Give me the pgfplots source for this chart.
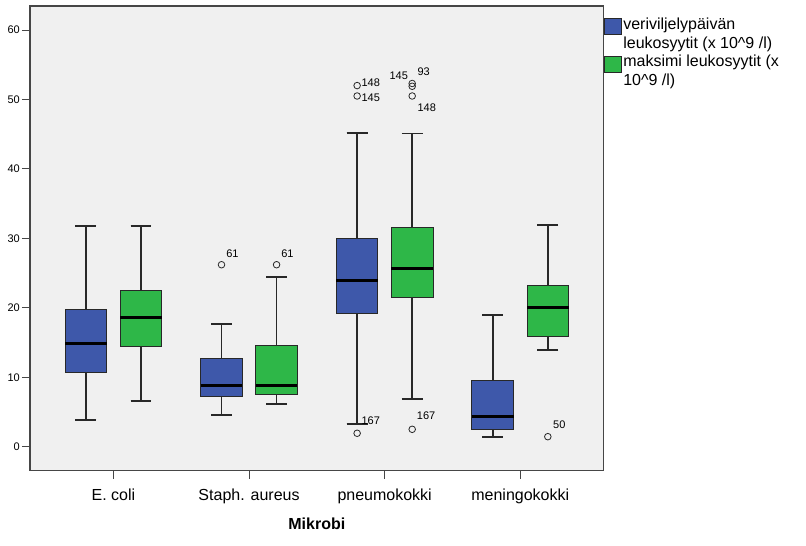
\documentclass[border=0pt]{standalone}
\usepackage{pgfplots}
\pgfplotsset{compat=1.18}
\usepgfplotslibrary{statistics}
\usepackage{pgfplotstable}
\usepackage{fontspec}
\setmainfont{Liberation Sans}
\definecolor{spssblue}{RGB}{62,88,170}
\definecolor{spssgreen}{RGB}{46,183,72}
\definecolor{bggray}{RGB}{240,240,240}
\definecolor{framegray}{RGB}{70,70,70}
\definecolor{boxedge}{RGB}{40,40,40}

\pgfplotstableread{
x y lab dx dy
0.797 26.2 61 4.4 11
1.203 26.2 61 4.4 11
1.797 52.0 148 4 3
1.797 50.5 145 4 -2
1.797 1.93 167 4 13
2.203 52.3 93 5 11.8
2.203 51.9 145 -23 10.3
2.203 50.5 148 5 -11.3
2.203 2.5 167 4.3 13.3
3.203 1.44 50 5 11.7
}\outliers

\pgfplotsset{
  bx/.style={draw=boxedge, line width=1pt,
    boxplot/draw direction=y,
    boxplot/box extend=0.307, boxplot/whisker extend=0.154,
    boxplot/every whisker/.style={line width=1.7pt, draw=boxedge},
    boxplot/every median/.style={line width=3pt, draw=black}},
}

\begin{document}
\begin{tikzpicture}
\useasboundingbox (0,0) rectangle (806pt,546pt);
\begin{axis}[
  at={(30pt,75.3pt)}, anchor=south west,
  scale only axis, width=573.7pt, height=464.7pt,
  xmin=-0.615, xmax=3.615, ymin=-3.46, ymax=63.46,
  axis background/.style={fill=bggray},
  axis line style={framegray, line width=1.2pt},
  xtick={0,1,2,3},
  xticklabels={E. coli, Staph. aureus, pneumokokki, meningokokki},
  ytick={0,10,...,60},
  tick align=outside, major tick length=8pt,
  tick style={framegray, line width=1pt},
  xtick pos=bottom, ytick pos=left,
  font=\fontsize{16}{19}\selectfont,
  yticklabel style={font=\fontsize{11}{13}\selectfont, inner sep=0pt, xshift=-2pt},
  xticklabel style={anchor=base, inner sep=0pt, yshift=-22.3pt},
  /pgf/number format/assume math mode=true,
  xlabel={Mikrobi},
  xlabel style={at={(axis description cs:0.5,0)}, anchor=base, yshift=-58.3pt, font=\fontsize{16}{19}\selectfont\bfseries},
  legend style={at={(rel axis cs:1,1)}, anchor=north west, draw=none, fill=none,
    inner sep=0pt, outer sep=0pt, yshift=-10pt,
    font=\fontsize{16}{18.5}\selectfont,
    cells={anchor=west, align=left}, row sep=1.5pt},
  legend image code/.code={\draw[#1, draw=boxedge, line width=0.6pt] (0pt,-1pt) rectangle (17pt,15pt);},
]
\addlegendimage{fill=spssblue}
\addlegendentry{veriviljelypäivän\\leukosyytit (x 10\textasciicircum 9 /l)}
\addlegendimage{fill=spssgreen}
\addlegendentry{maksimi leukosyytit (x\\10\textasciicircum 9 /l)}

% E. coli
\addplot[bx, fill=spssblue, boxplot prepared={draw position=-0.203,
  lower whisker=3.85, lower quartile=10.66, median=14.9, upper quartile=19.7, upper whisker=31.8}] coordinates {};
\addplot[bx, fill=spssgreen, boxplot prepared={draw position=0.203,
  lower whisker=6.62, lower quartile=14.4, median=18.6, upper quartile=22.47, upper whisker=31.8}] coordinates {};
% Staph. aureus
\addplot[bx, fill=spssblue, boxplot prepared={draw position=0.797,
  lower whisker=4.61, lower quartile=7.16, median=8.79, upper quartile=12.63, upper whisker=17.67}] coordinates {};
\addplot[bx, fill=spssgreen, boxplot prepared={draw position=1.203,
  lower whisker=6.1, lower quartile=7.49, median=8.79, upper quartile=14.5, upper whisker=24.4}] coordinates {};
% pneumokokki
\addplot[bx, fill=spssblue, boxplot prepared={draw position=1.797,
  lower whisker=3.27, lower quartile=19.15, median=23.96, upper quartile=29.95, upper whisker=45.2}] coordinates {};
\addplot[bx, fill=spssgreen, boxplot prepared={draw position=2.203,
  lower whisker=6.87, lower quartile=21.5, median=25.69, upper quartile=31.54, upper whisker=45.1}] coordinates {};
% meningokokki
\addplot[bx, fill=spssblue, boxplot prepared={draw position=2.797,
  lower whisker=1.44, lower quartile=2.45, median=4.28, upper quartile=9.56, upper whisker=19.0}] coordinates {};
\addplot[bx, fill=spssgreen, boxplot prepared={draw position=3.203,
  lower whisker=13.9, lower quartile=15.8, median=20.0, upper quartile=23.2, upper whisker=31.88}] coordinates {};

% outliers
\addplot[only marks, mark=o, mark size=3.3pt, color=boxedge, mark options={line width=0.8pt},
  nodes near coords, point meta=explicit symbolic,
  visualization depends on={\thisrow{dx} \as \dx},
  visualization depends on={\thisrow{dy} \as \dy},
  every node near coord/.append style={anchor=west, inner sep=0pt, xshift=\dx pt, yshift=\dy pt,
    font=\fontsize{11}{13}\selectfont, text=black}]
  table[x=x, y=y, meta=lab] {\outliers};
\end{axis}
\end{tikzpicture}
\end{document}
